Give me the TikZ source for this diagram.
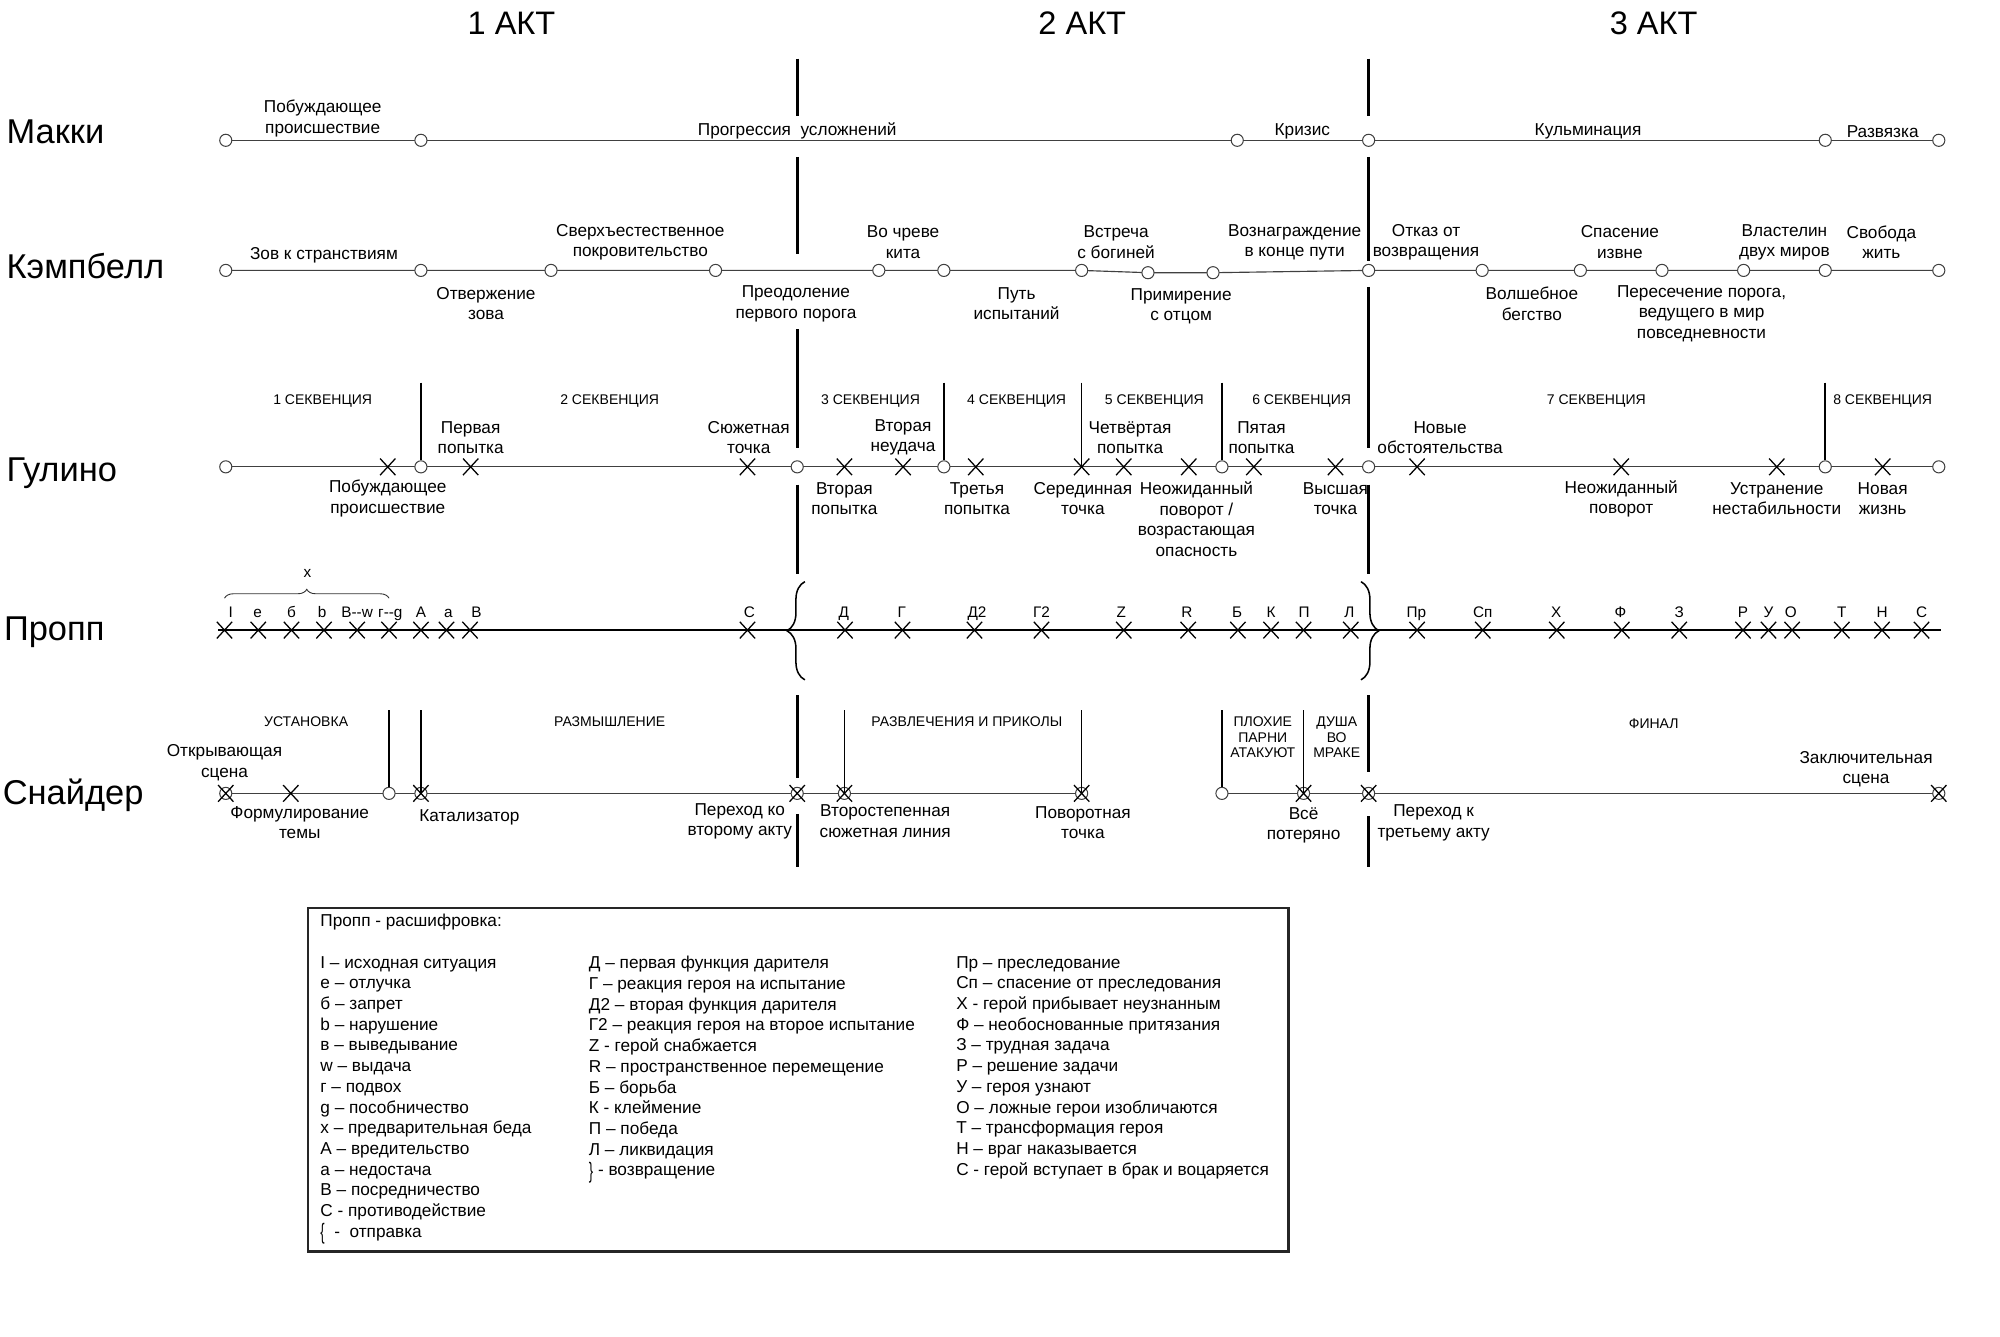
\documentclass[tikz,border=0pt]{standalone}
\usepackage{fontspec}
\setmainfont{Liberation Sans}
\usetikzlibrary{shapes.misc,decorations.pathreplacing}
\pgfdeclarelayer{bg}
\pgfsetlayers{bg,main}
\begin{document}
\begin{tikzpicture}[x=1pt,y=-1pt,
  lbl/.style={font=\fontsize{13.5}{16.2}\selectfont, align=center, inner sep=0pt},
  small/.style={font=\fontsize{11}{12.4}\selectfont, align=center, inner sep=0pt},
  act/.style={font=\fontsize{25.5}{28}\selectfont, inner sep=0pt},
  rowt/.style={font=\fontsize{27}{30}\selectfont, anchor=base west, inner sep=0pt},
  pl/.style={font=\fontsize{12}{14}\selectfont, inner sep=0pt, anchor=base},
  legt/.style={font=\fontsize{13.5}{16.24}\selectfont, align=left, inner sep=0pt, anchor=north west},
  dot/.style={circle, draw=black!75, fill=white, line width=0.8pt, minimum size=9.5pt, inner sep=0pt},
  xm/.style={cross out, draw=black, line width=1pt, minimum width=11pt, minimum height=12pt, inner sep=0pt},
  rowline/.style={draw=black!75, line width=0.9pt},
  proppline/.style={draw=black, line width=1.8pt},
  actline/.style={draw=black, line width=2.6pt},
  seqline/.style={draw=black, line width=1.3pt},
  bigbrace/.style={draw=black, line width=1.2pt, decorate, decoration={brace, amplitude=14pt}},
  smallbrace/.style={draw=black!80, line width=0.7pt, decorate, decoration={brace, amplitude=7pt}}
]
\useasboundingbox (0,0) rectangle (1568,1047.5);
\begin{pgfonlayer}{bg}
  \fill[white] (0,0) rectangle (1568,1047.5);
\end{pgfonlayer}

% ---------- act titles
\node[act] (a1) at (401,18.5) {1 АКТ};
\node[act] (a2) at (848.5,18.5) {2 АКТ};
\node[act] (a3) at (1296.5,18.5) {3 АКТ};

% ---------- row titles
\node[rowt] (tM) at (5,112.4) {Макки};
\node[rowt] (tK) at (5,218.2) {Кэмпбелл};
\node[rowt] (tG) at (5,377.6) {Гулино};
\node[rowt] (tP) at (3,502.5) {Пропп};
\node[rowt] (tS) at (2,631) {Снайдер};

% ---------- act lines
\foreach \ya/\yb in {46/91, 123/199, 258/351, 380/450, 545/610, 638/680}
  \draw[actline] (625,\ya) -- (625,\yb);
\foreach \ya/\yb in {46/91, 123/205, 225/351, 380/450, 545/605, 640/680}
  \draw[actline] (1073,\ya) -- (1073,\yb);

% ---------- Макки
\foreach \n/\x in {1/177, 2/330, 3/970, 4/1073, 5/1431, 6/1520}
  \node[dot] (m\n) at (\x,110) {};
\begin{pgfonlayer}{bg}
  \draw[rowline] (m1.center) -- (m6.center);
\end{pgfonlayer}
\node[lbl] (ml1) at (253,93) {Побуждающее\\происшествие};
\node[lbl] (ml2) at (625,103) {Прогрессия\hspace{0.55em}усложнений};
\node[lbl] (ml3) at (1021,103) {Кризис};
\node[lbl] (ml4) at (1245,103) {Кульминация};
\node[lbl] (ml5) at (1476,103) {Развязка};

% ---------- Кэмпбелл
\foreach \n/\x/\y in {1/177/212, 2/330/212, 3/432/212, 4/561/212, 5/689/212, 6/740/212, 7/848/212, 8/900/213.8, 9/951/213.8, 10/1073/212, 11/1162/212, 12/1239/212, 13/1303/212, 14/1367/212, 15/1431/212, 16/1520/212}
  \node[dot] (k\n) at (\x,\y) {};
\begin{pgfonlayer}{bg}
  \draw[rowline] (k1.center) -- (k7.center) -- (k8.center) -- (k9.center) -- (k10.center) -- (k16.center);
\end{pgfonlayer}
\node[lbl] (kl1) at (254,200) {Зов к странствиям};
\node[lbl] (kl2) at (502,190) {Сверхъестественное\\покровительство};
\node[lbl] (kl3) at (708,190) {Во чреве\\кита};
\node[lbl] (kl4) at (875,190) {Встреча\\с богиней};
\node[lbl] (kl5) at (1015,190) {Вознаграждение\\в конце пути};
\node[lbl] (kl6) at (1118,190) {Отказ от\\возвращения};
\node[lbl] (kl7) at (1270,190) {Спасение\\извне};
\node[lbl] (kl8) at (1399,190) {Властелин\\двух миров};
\node[lbl] (kl9) at (1475,190) {Свобода\\жить};
\node[lbl] (kl10) at (381,238) {Отвержение\\зова};
\node[lbl] (kl11) at (624,238) {Преодоление\\первого порога};
\node[lbl] (kl12) at (797,238) {Путь\\испытаний};
\node[lbl] (kl13) at (926,240) {Примирение\\с отцом};
\node[lbl] (kl14) at (1201,238) {Волшебное\\бегство};
\node[lbl] (kl15) at (1334,246) {Пересечение порога,\\ведущего в мир\\повседневности};

% ---------- Гулино
\foreach \n/\x in {1/177, 2/330, 3/625, 4/740, 5/958, 6/1073, 7/1431, 8/1520}
  \node[dot] (gc\n) at (\x,366) {};
\foreach \n/\x in {1/304, 2/369, 3/586, 4/662, 5/708, 6/765, 7/848, 8/881, 9/932, 10/983, 11/1047, 12/1111, 13/1271, 14/1393, 15/1476}
  \node[xm] (gx\n) at (\x,366) {};
\begin{pgfonlayer}{bg}
  \draw[rowline] (gc1.center) -- (gc8.center);
\end{pgfonlayer}
\coordinate (sq1) at (330,300);
\coordinate (sq2) at (740,300);
\coordinate (sq3) at (848,300);
\coordinate (sq4) at (958,300);
\coordinate (sq5) at (1431,300);
\draw[seqline] (sq1) -- (gc2.north);
\draw[seqline] (sq2) -- (gc4.north);
\draw[seqline] (sq3) -- (gx7.center);
\draw[seqline] (sq4) -- (gc5.north);
\draw[seqline] (sq5) -- (gc7.north);
\node[small] (sl1) at (253,314.5) {1 СЕКВЕНЦИЯ};
\node[small] (sl2) at (478,314.5) {2 СЕКВЕНЦИЯ};
\node[small] (sl3) at (682.5,314.5) {3 СЕКВЕНЦИЯ};
\node[small] (sl4) at (797,314.5) {4 СЕКВЕНЦИЯ};
\node[small] (sl5) at (905,314.5) {5 СЕКВЕНЦИЯ};
\node[small] (sl6) at (1020.5,314.5) {6 СЕКВЕНЦИЯ};
\node[small] (sl7) at (1251.5,314.5) {7 СЕКВЕНЦИЯ};
\node[small] (sl8) at (1476,314.5) {8 СЕКВЕНЦИЯ};
\node[lbl] (gl1) at (369,343) {Первая\\попытка};
\node[lbl] (gl2) at (587,343) {Сюжетная\\точка};
\node[lbl] (gl3) at (708,343) {Вторая\\неудача};
\node[lbl] (gl4) at (886,343) {Четвёртая\\попытка};
\node[lbl] (gl5) at (989,343) {Пятая\\попытка};
\node[lbl] (gl6) at (1129,343) {Новые\\обстоятельства};
\node[lbl] (gl7) at (304,391) {Побуждающее\\происшествие};
\node[lbl] (gl8) at (662,391) {Вторая\\попытка};
\node[lbl] (gl9) at (766,391) {Третья\\попытка};
\node[lbl] (gl10) at (849,391) {Серединная\\точка};
\node[lbl] (gl11) at (938,407) {Неожиданный\\поворот /\\возрастающая\\опасность};
\node[lbl] (gl12) at (1047,391) {Высшая\\точка};
\node[lbl] (gl13) at (1271,391) {Неожиданный\\поворот};
\node[lbl] (gl14) at (1393,391) {Устранение\\нестабильности};
\node[lbl] (gl15) at (1476,391) {Новая\\жизнь};

% ---------- Пропп
\coordinate (pa) at (171,494);
\coordinate (pb) at (1522,494);
\begin{pgfonlayer}{bg}
  \draw[proppline] (pa) -- (pb);
\end{pgfonlayer}
\foreach \i/\x/\lx/\t in {1/176/181/I, 2/202.5/202/e, 3/228.5/228.5/б, 4/254/252.5/b, 5/280/280/В-{}-w, 6/305/306/г-{}-g, 7/330/330/А, 8/350/351.5/а, 9/368.5/373.5/В, 10/586/587.5/С, 11/662.5/661.5/Д, 12/707.5/707/Г, 13/764/766/Д2, 14/816.5/816.5/Г2, 15/881/879/Z, 16/931.5/930.5/R, 17/970.5/970/Б, 18/996.5/996.5/К, 19/1022/1022.5/П, 20/1059/1058/Л, 21/1111/1110.5/Пр, 22/1162.5/1162.5/Сп, 23/1220.5/1220/Х, 24/1271.5/1270.5/Ф, 25/1316.5/1316.5/З, 26/1366.5/1366.5/Р, 27/1386.5/1386.5/У, 28/1405/1404/О, 29/1444/1444/Т, 30/1475.5/1475.5/Н, 31/1506.5/1506.5/С}
{
  \node[xm] (p\i) at (\x,494) {};
  \node[pl] (pl\i) at (\lx,484) {\t};
}
\coordinate (xb1) at (176,469);
\coordinate (xb2) at (305,469);
\draw[smallbrace] (xb1) -- (xb2);
\node[pl] (xlab) at (241,453) {x};
\coordinate (lb1) at (631,533);
\coordinate (lb2) at (631,456);
\draw[bigbrace] (lb1) -- (lb2);
\coordinate (rb1) at (1067,456);
\coordinate (rb2) at (1067,533);
\draw[bigbrace] (rb1) -- (rb2);

% ---------- Снайдер
\foreach \n/\x in {1/177, 3/305, 4/330, 5/625, 6/662, 7/848, 8/958, 9/1022, 10/1073, 11/1520}
  \node[dot] (sc\n) at (\x,622) {};
\foreach \n/\x in {1/177, 2/228, 4/330, 5/625, 6/662, 7/848, 9/1022, 10/1073, 11/1520}
  \node[xm] (sx\n) at (\x,622) {};
\begin{pgfonlayer}{bg}
  \draw[rowline] (sc1.center) -- (sc7.center);
  \draw[rowline] (sc8.center) -- (sc11.center);
\end{pgfonlayer}
\coordinate (ss1) at (305,557);
\coordinate (ss2) at (330,557);
\coordinate (ss3) at (662,557);
\coordinate (ss4) at (848,557);
\coordinate (ss5) at (958,557);
\coordinate (ss6) at (1022,557);
\draw[seqline] (ss1) -- (sc3.north);
\draw[seqline] (ss2) -- (sx4.center);
\draw[seqline] (ss3) -- (sx6.center);
\draw[seqline] (ss4) -- (sx7.center);
\draw[seqline] (ss5) -- (sc8.north);
\draw[seqline] (ss6) -- (sx9.center);
\node[small] (ssl1) at (240,566) {УСТАНОВКА};
\node[small] (ssl2) at (478,566) {РАЗМЫШЛЕНИЕ};
\node[small] (ssl3) at (758,566) {РАЗВЛЕЧЕНИЯ И ПРИКОЛЫ};
\node[small] (ssl4) at (990,578) {ПЛОХИЕ\\ПАРНИ\\АТАКУЮТ};
\node[small] (ssl5) at (1048,578) {ДУША\\ВО\\МРАКЕ};
\node[small] (ssl6) at (1296.5,567) {ФИНАЛ};
\node[lbl] (sl_a) at (176,598) {Открывающая\\сцена};
\node[lbl] (sl_b) at (235,645) {Формулирование\\темы};
\node[lbl] (sl_c) at (368,641) {Катализатор};
\node[lbl] (sl_d) at (580,644) {Переход ко\\второму акту};
\node[lbl] (sl_e) at (694,644) {Второстепенная\\сюжетная линия};
\node[lbl] (sl_f) at (849,645) {Поворотная\\точка};
\node[lbl] (sl_g) at (1022,647) {Всё\\потеряно};
\node[lbl] (sl_h) at (1124,645) {Переход к\\третьему акту};
\node[lbl] (sl_i) at (1463,603) {Заключительная\\сцена};

% ---------- legend
\node[draw=black!85, line width=2pt, minimum width=768.5pt, minimum height=269pt, anchor=north west, inner sep=0pt] (legend) at (240.5,711) {};
\node[font=\fontsize{13.5}{16.2}\selectfont, anchor=west, inner sep=0pt] (legtitle) at (251,722.5) {Пропп - расшифровка:};
\node[legt] (lc1) at (251,749.5) {I – исходная ситуация\\е – отлучка\\б – запрет\\b – нарушение\\в – выведывание\\w – выдача\\г – подвох\\g – пособничество\\x – предварительная беда\\А – вредительство\\а – недостача\\В – посредничество\\С - противодействие\\\raisebox{-2pt}{\scalebox{0.75}[1.3]{\{}}\ \ -\ \ отправка};
\node[legt] (lc2) at (461.5,749.5) {Д – первая функция дарителя\\Г – реакция героя на испытание\\Д2 – вторая функция дарителя\\Г2 – реакция героя на второе испытание\\Z - герой снабжается\\R – пространственное перемещение\\Б – борьба\\К - клеймение\\П – победа\\Л – ликвидация\\\raisebox{-2pt}{\scalebox{0.75}[1.3]{\}}}\ - возвращение};
\node[legt] (lc3) at (749.5,749.5) {Пр – преследование\\Сп – спасение от преследования\\Х - герой прибывает неузнанным\\Ф – необоснованные притязания\\З – трудная задача\\Р – решение задачи\\У – героя узнают\\О – ложные герои изобличаются\\Т – трансформация героя\\Н – враг наказывается\\С - герой вступает в брак и воцаряется};
\end{tikzpicture}
\end{document}
